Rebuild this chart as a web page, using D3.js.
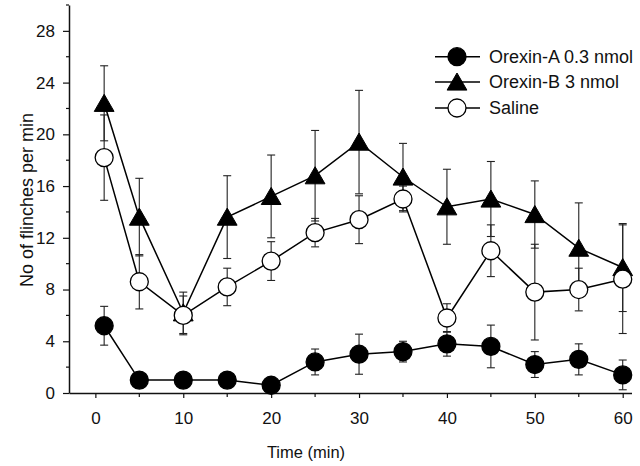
<!DOCTYPE html>
<html>
<head>
<meta charset="utf-8">
<script src="https://cdn.jsdelivr.net/npm/d3@7"></script>
<style>
  html, body { margin: 0; padding: 0; background: #fff; }
  svg { display: block; }
  text { font-family: "Liberation Sans", Arial, Helvetica, sans-serif; fill: #111; }
</style>
</head>
<body>
<svg id="chart" width="640" height="466"></svg>
<script>
// ---- data ----
const times = [1, 5, 10, 15, 20, 25, 30, 35, 40, 45, 50, 55, 60];
const orexinA    = [5.2, 1.0, 1.0, 1.0, 0.6, 2.4, 3.0, 3.2, 3.8, 3.6, 2.2, 2.6, 1.4];
const orexinA_se = [1.5, 0.3, 0.3, 0.3, 0.3, 1.0, 1.55, 0.8, 0.95, 1.65, 1.0, 1.2, 1.15];
const orexinB    = [22.4, 13.6, 6.2, 13.6, 15.2, 16.8, 19.4, 16.7, 14.4, 15.0, 13.8, 11.2, 9.7];
const orexinB_se = [2.9, 3.0, 1.6, 3.2, 3.2, 3.5, 4.0, 2.6, 2.9, 2.9, 2.6, 3.5, 3.4];
const saline     = [18.2, 8.6, 6.0, 8.2, 10.2, 12.4, 13.4, 15.0, 5.8, 11.0, 7.8, 8.0, 8.8];
const saline_se  = [3.3, 2.1, 1.5, 1.45, 1.5, 1.1, 1.85, 1.0, 1.1, 2.0, 3.7, 1.65, 4.2];
const seriesNames = ["Orexin-A 0.3 nmol", "Orexin-B 3 nmol", "Saline"];
const xTickValues = [0, 10, 20, 30, 40, 50, 60];
const xMinorTicks = [5, 15, 25, 35, 45, 55];
const yTickValues = [0, 4, 8, 12, 16, 20, 24, 28];
const yMinorTicks = [2, 6, 10, 14, 18, 22, 26, 30];
const xTitle = "Time (min)";
const yTitle = "No of flinches per min";

// ---- layout ----
const svg = d3.select("#chart");
const x = d3.scaleLinear().domain([-3, 61]).range([69, 631.5]);
const y = d3.scaleLinear().domain([0, 30]).range([393, 5]);

const series = [
  { name: seriesNames[0], vals: orexinA, se: orexinA_se, shape: "circle", fill: "#000" },
  { name: seriesNames[1], vals: orexinB, se: orexinB_se, shape: "triangle", fill: "#000" },
  { name: seriesNames[2], vals: saline,  se: saline_se,  shape: "circle", fill: "#fff" }
];

// ---- axes ----
const yAxis = d3.axisLeft(y).tickValues(yTickValues).tickSize(6).tickPadding(8).tickSizeOuter(0);
const gy = svg.append("g").attr("transform", `translate(${x(-3)},0)`).call(yAxis);
gy.selectAll("text").style("font-size", "17px");
gy.append("g").selectAll("line").data(yMinorTicks).join("line")
  .attr("x1", -3).attr("x2", 0).attr("y1", d => y(d)).attr("y2", d => y(d))
  .attr("stroke", "#111").attr("stroke-width", 1.2);

const xAxis = d3.axisBottom(x).tickValues(xTickValues).tickSize(5).tickPadding(14).tickSizeOuter(0);
const gx = svg.append("g").attr("transform", `translate(0,${y(0)})`).call(xAxis);
gx.selectAll("text").style("font-size", "17px");
gx.append("g").selectAll("line").data(xMinorTicks).join("line")
  .attr("x1", d => x(d)).attr("x2", d => x(d)).attr("y1", 0).attr("y2", 4)
  .attr("stroke", "#111").attr("stroke-width", 1.2);

svg.selectAll(".domain").attr("stroke", "#111").attr("stroke-width", 1.5);
svg.selectAll(".tick line").attr("stroke", "#111").attr("stroke-width", 1.2);

// titles
svg.append("text").attr("x", 306).attr("y", 458).attr("text-anchor", "middle")
  .style("font-size", "16.5px").text(xTitle);
svg.append("text").attr("transform", "translate(33,200) rotate(-90)").attr("text-anchor", "middle")
  .style("font-size", "18px").text(yTitle);

// ---- marks ----
const triPath = s => `M0,${-s * 0.5}L${s * 0.55},${s * 0.45}L${-s * 0.55},${s * 0.45}Z`;

function drawMarker(g, shape, fill, cx, cy) {
  if (shape === "circle") {
    g.append("circle").attr("cx", cx).attr("cy", cy).attr("r", 9)
      .attr("fill", fill).attr("stroke", "#000").attr("stroke-width", 1.3);
  } else {
    g.append("path").attr("d", triPath(18)).attr("transform", `translate(${cx},${cy})`)
      .attr("fill", fill).attr("stroke", "#000").attr("stroke-width", 1);
  }
}

const line = d3.line().x(d => x(d[0])).y(d => y(d[1]));

// error bars first (beneath everything)
series.forEach(s => {
  const g = svg.append("g").attr("stroke", "#222").attr("stroke-width", 1.1);
  times.forEach((t, i) => {
    const cx = x(t), lo = y(s.vals[i] - s.se[i]), hi = y(s.vals[i] + s.se[i]);
    g.append("line").attr("x1", cx).attr("x2", cx).attr("y1", lo).attr("y2", hi);
    g.append("line").attr("x1", cx - 4).attr("x2", cx + 4).attr("y1", lo).attr("y2", lo);
    g.append("line").attr("x1", cx - 4).attr("x2", cx + 4).attr("y1", hi).attr("y2", hi);
  });
});

series.forEach(s => {
  const pts = times.map((t, i) => [t, s.vals[i]]);
  svg.append("path").datum(pts).attr("d", line).attr("fill", "none")
    .attr("stroke", "#000").attr("stroke-width", 1.5);
  const g = svg.append("g");
  pts.forEach(p => drawMarker(g, s.shape, s.fill, x(p[0]), y(p[1])));
});

// ---- legend ----
const legY = [56.7, 82, 108];
series.forEach((s, i) => {
  const g = svg.append("g");
  g.append("line").attr("x1", 435).attr("x2", 480).attr("y1", legY[i]).attr("y2", legY[i])
    .attr("stroke", "#000").attr("stroke-width", 1.5);
  drawMarker(g, s.shape, s.fill, 457, legY[i]);
  g.append("text").attr("x", 489).attr("y", legY[i]).attr("dy", "0.35em")
    .style("font-size", "18px").text(s.name);
});
</script>
</body>
</html>
